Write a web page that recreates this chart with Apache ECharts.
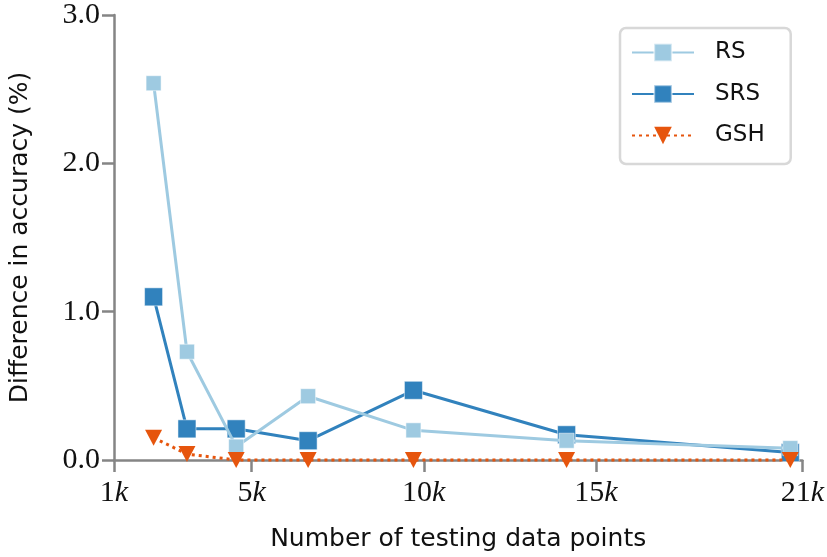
<!DOCTYPE html>
<html>
<head>
<meta charset="utf-8">
<script src="https://cdn.jsdelivr.net/npm/echarts@6/dist/echarts.min.js"></script>
<style>
  html, body { margin: 0; padding: 0; background: #fff; }
  #chart { width: 827px; height: 557px; }
</style>
</head>
<body>
<div id="chart"></div>
<script>
// testing data size, in thousands
const sizes = [2.15, 3.12, 4.55, 6.64, 9.70, 14.15, 20.65];
const rs = [2.54, 0.73, 0.09, 0.43, 0.20, 0.13, 0.08];
const srs = [1.10, 0.21, 0.21, 0.13, 0.47, 0.17, 0.05];
const gsh = [0.15, 0.04, 0.0, 0.0, 0.0, 0.0, 0.0];
const xTicks = [1, 5, 10, 15, 21];

const axisGray = '#858585';
const serif = '"Liberation Serif", "DejaVu Serif", serif';
const sans = '"DejaVu Sans", sans-serif';

const pairs = (ys) => sizes.map((x, i) => [x, ys[i]]);
const downTri = 'path://M0,0 L10,0 L5,9 Z';

const chart = echarts.init(document.getElementById('chart'), null, { renderer: 'canvas' });
chart.setOption({
  animation: false,
  backgroundColor: '#fff',
  grid: { left: 112.6, right: 24.4, top: 15, bottom: 95.3 },
  xAxis: {
    type: 'value',
    min: 1,
    max: 21,
    name: 'Number of testing data points',
    nameLocation: 'middle',
    nameGap: 67,
    nameTextStyle: { fontFamily: sans, fontSize: 25, color: '#111' },
    axisLine: { lineStyle: { color: axisGray, width: 2.5 } },
    axisTick: { customValues: xTicks, length: 12, lineStyle: { color: axisGray, width: 2.5 } },
    axisLabel: {
      customValues: xTicks,
      margin: 18,
      formatter: (v) => '{n|' + v + '}{k|k}',
      rich: {
        n: { fontFamily: serif, fontSize: 30, color: '#111' },
        k: { fontFamily: serif, fontSize: 30, fontStyle: 'italic', color: '#111' }
      }
    },
    splitLine: { show: false }
  },
  yAxis: {
    type: 'value',
    min: 0,
    max: 3,
    interval: 1,
    name: 'Difference in accuracy (%)',
    nameLocation: 'middle',
    nameGap: 81,
    nameTextStyle: { fontFamily: sans, fontSize: 25, color: '#111' },
    axisLine: { show: true, lineStyle: { color: axisGray, width: 2.5 } },
    axisTick: { show: true, length: 12, lineStyle: { color: axisGray, width: 2.5 } },
    axisLabel: {
      margin: 14,
      formatter: (v) => v.toFixed(1),
      fontFamily: serif, fontSize: 30, color: '#111'
    },
    splitLine: { show: false }
  },
  legend: {
    orient: 'vertical',
    left: 620,
    top: 28,
    data: ['RS', 'SRS', 'GSH'],
    itemWidth: 62,
    itemHeight: 22,
    itemGap: 18.5,
    padding: [13, 26, 17, 11],
    borderColor: '#d8d8d8',
    borderWidth: 2.5,
    borderRadius: 6,
    backgroundColor: '#fff',
    textStyle: { fontFamily: sans, fontSize: 23, color: '#111', padding: [0, 0, 0, 16] }
  },
  series: [
    {
      name: 'SRS', type: 'line', data: pairs(srs), clip: false,
      symbol: 'rect', symbolSize: 18,
      lineStyle: { color: '#3182bd', width: 3 },
      itemStyle: { color: '#3182bd', borderColor: 'rgba(255,255,255,0.5)', borderWidth: 1 },
      z: 2
    },
    {
      name: 'RS', type: 'line', data: pairs(rs), clip: false,
      symbol: 'rect', symbolSize: 15,
      lineStyle: { color: '#9ecae1', width: 3 },
      itemStyle: { color: '#9ecae1', borderColor: 'rgba(255,255,255,0.5)', borderWidth: 1 },
      z: 3
    },
    {
      name: 'GSH', type: 'line', data: pairs(gsh), clip: false,
      symbol: downTri, symbolSize: [17, 16], symbolKeepAspect: false,
      lineStyle: { color: '#e6550d', width: 3, type: [3, 4] },
      itemStyle: { color: '#e6550d', borderWidth: 0 },
      z: 4
    }
  ]
});
</script>
</body>
</html>
